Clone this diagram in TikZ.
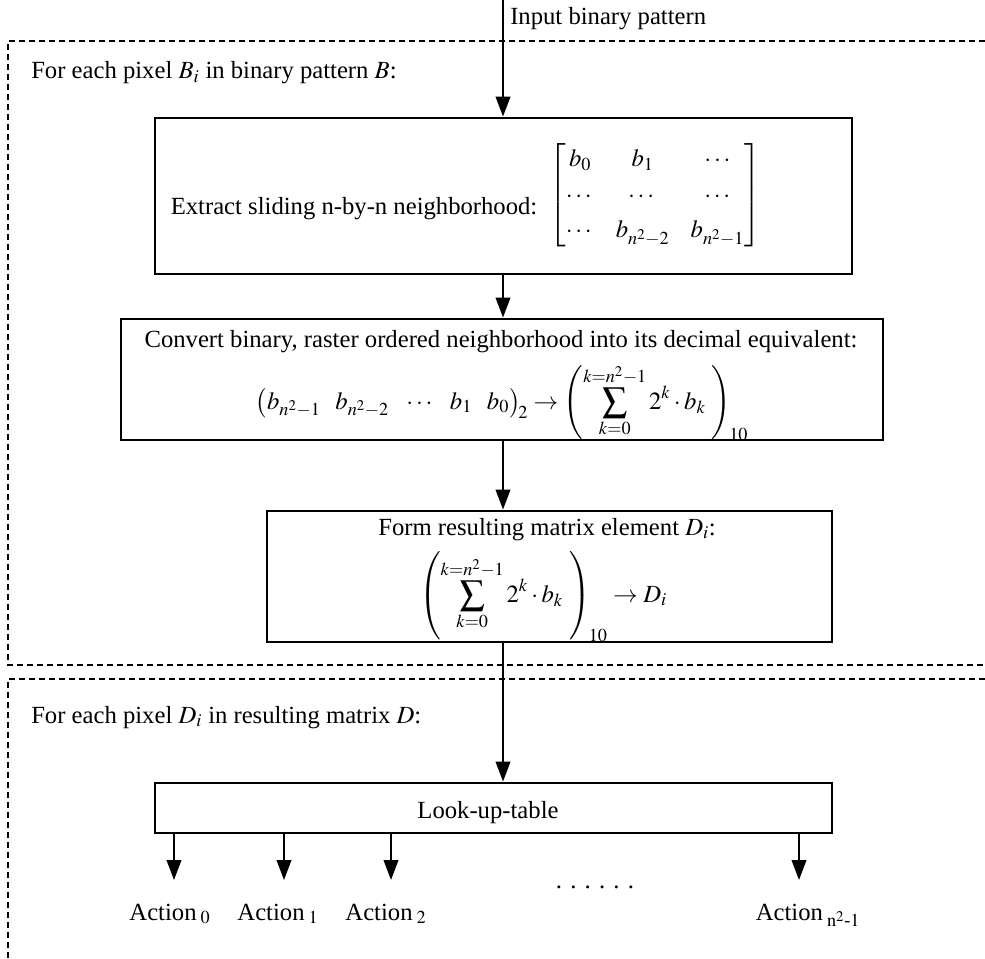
\documentclass[tikz,border=0pt]{standalone}
\usepackage{amsmath}
\usepackage{mathptmx}
\usepackage{fontspec}
\setmainfont{Liberation Serif}
\usetikzlibrary{arrows.meta}
\tikzset{
  txt/.style={font=\fontsize{18.5}{22}\selectfont, inner sep=0pt},
  box/.style={draw, line width=2.2pt, inner sep=0pt},
  arr/.style={line width=1.4pt, -{Triangle[length=15pt,width=11pt]}},
  dsh/.style={line width=1.3pt, dash pattern=on 4.5pt off 3pt},
}
\begin{document}
\begin{tikzpicture}[x=0.75pt,y=-0.75pt]
\useasboundingbox (0,0) rectangle (985,959);
% dashed regions
\draw[dsh] (985,41) -- (8,41) -- (8,665) -- (985,665);
\draw[dsh] (985,679) -- (8,679) -- (8,959);
% labels
\node[txt, anchor=base west] (inlbl) at (510,25) {Input binary pattern};
\node[txt, anchor=base west] (l1) at (31,79) {For each pixel $B_i$ in binary pattern $B$:};
\node[txt, anchor=base west] (l2) at (31,723) {For each pixel $D_i$ in resulting matrix $D$:};
% boxes
\node[box, minimum width=522.75pt, minimum height=117pt] (b1) at (503.5,196) {};
\node[box, minimum width=571.5pt, minimum height=90.75pt] (b2) at (502,379.5) {};
\node[box, minimum width=423.75pt, minimum height=98.25pt] (b3) at (549.5,576.5) {};
\node[box, minimum width=507.75pt, minimum height=37.5pt] (lut) at (493.5,808) {};
% box contents
\node[txt, anchor=base west] (b1t) at (b1.west) [xshift=12.75pt, yshift=-14pt] {Extract sliding n-by-n neighborhood:};
\node[txt] (b1m) at (655,195)
 {\setlength\arraycolsep{8pt}\renewcommand\arraystretch{1.22}$\begin{bmatrix} b_0 & b_1 & \cdots\\ \cdots & \cdots & \cdots\\ \cdots & b_{n^2-2} & b_{n^2-1}\end{bmatrix}$};
\node[txt, anchor=base] (b2t) at (501,347) {Convert binary, raster ordered neighborhood into its decimal equivalent:};
\node[txt, anchor=base] (b2e) at (502,409)
 {\delimitershortfall=7pt$\displaystyle\left(b_{n^2-1}\hspace{0.6em} b_{n^2-2}\hspace{0.6em} \cdots\hspace{0.6em} b_1\hspace{0.6em} b_0\right)_{\!2}\to\left(\sum_{k=0}^{k=n^2-1}2^k\cdot b_k\ \right)_{\!10}$};
\node[txt, anchor=base] (b3t) at (547,535) {Form resulting matrix element $D_i$:};
\node[txt, anchor=base] (b3e) at (543,602)
 {\delimitershortfall=0pt$\displaystyle\left(\sum_{k=0}^{k=n^2-1}2^k\cdot b_k\ \right)_{\!10}\to D_i$};
\node[txt, anchor=base] (lutt) at (488,818) {Look-up-table};
% main axis
\coordinate (top) at (503,0);
\draw[arr] (top) -- (top |- b1.north);
\draw[arr] (top |- b1.south) -- (top |- b2.north);
\draw[arr] (top |- b2.south) -- (top |- b3.north);
\draw[arr] (top |- b3.south) -- (top |- lut.north);
% actions
\node[txt, anchor=base] (a0) at (170,920) {Action\,$_0$};
\node[txt, anchor=base] (a1) at (278,920) {Action\,$_1$};
\node[txt, anchor=base] (a2) at (386,920) {Action\,$_2$};
\node[txt, anchor=base] (an) at (808,920) {Action\,$_{\mathrm{n}^{2}\text{-}1}$};
\node[txt, anchor=base] (dots) at (595,888) {.\,\,.\,\,.\,\,.\,\,.\,\,.};
\coordinate (t0) at (174,880);
\coordinate (t1) at (284,880);
\coordinate (t2) at (391,880);
\coordinate (tn) at (799,880);
\draw[arr] (lut.south -| t0) -- (t0);
\draw[arr] (lut.south -| t1) -- (t1);
\draw[arr] (lut.south -| t2) -- (t2);
\draw[arr] (lut.south -| tn) -- (tn);
\end{tikzpicture}
\end{document}
